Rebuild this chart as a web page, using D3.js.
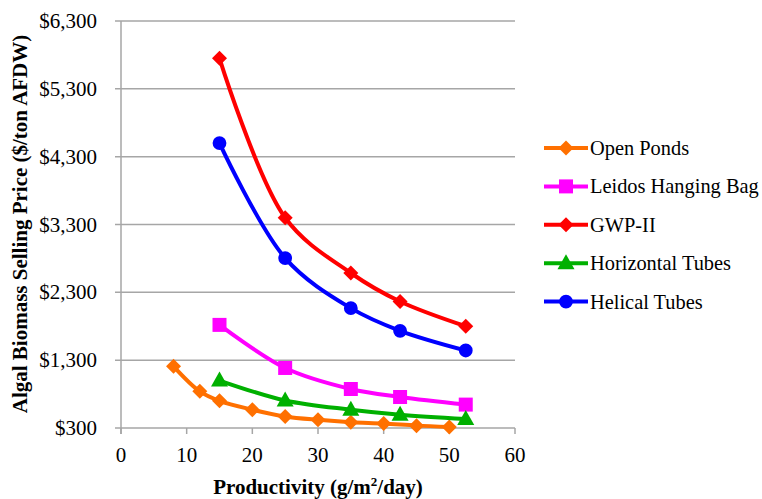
<!DOCTYPE html>
<html>
<head>
<meta charset="utf-8">
<script src="https://cdn.jsdelivr.net/npm/d3@7"></script>
<style>
  body { margin: 0; background: #fff; }
  text { font-family: "Liberation Serif", "Times New Roman", serif; fill: #000; }
</style>
</head>
<body>
<div id="chart"></div>
<script>
// data
var seriesNames = ["Open Ponds", "Leidos Hanging Bag", "GWP-II", "Horizontal Tubes", "Helical Tubes"];
var seriesColors = ["#ff7000", "#ff00ff", "#ff0000", "#00b000", "#0000ff"];
var seriesMarkers = ["diamond", "square", "diamond", "triangle", "circle"];

var pondX = [8, 12, 15, 20, 25, 30, 35, 40, 45, 50];
var pondY = [1210, 840, 700, 570, 470, 420, 385, 365, 335, 315];
var pbrX = [15, 25, 35, 42.5, 52.5];
var leidosY = [1820, 1185, 875, 757, 645];
var gwpY = [5750, 3400, 2585, 2165, 1800];
var horizY = [1000, 706, 570, 496, 432];
var helicalY = [4500, 2805, 2067, 1733, 1443];

var xTicks = [0, 10, 20, 30, 40, 50, 60];
var yTicks = [300, 1300, 2300, 3300, 4300, 5300, 6300];

var W = 762, H = 499;
var margin = {top: 21, right: 247, bottom: 71, left: 121};

var svg = d3.select("#chart").append("svg")
    .attr("width", W)
    .attr("height", H);

var x = d3.scaleLinear().domain([0, 60]).range([margin.left, W - margin.right]);
var y = d3.scaleLinear().domain([300, 6300]).range([H - margin.bottom, margin.top]);

const GRID = "#a6a6a6";
const FS = "21px";

// gridlines
svg.append("g").selectAll("line")
    .data(yTicks)
    .enter().append("line")
    .attr("x1", x(0) - 6)
    .attr("x2", x(60))
    .attr("y1", d => y(d))
    .attr("y2", d => y(d))
    .attr("stroke", GRID)
    .attr("stroke-width", 1.5);

// y axis line
svg.append("line")
    .attr("x1", x(0)).attr("x2", x(0))
    .attr("y1", y(6300)).attr("y2", y(300) + 6)
    .attr("stroke", GRID).attr("stroke-width", 1.5);

// x ticks
svg.append("g").selectAll("line")
    .data(xTicks)
    .enter().append("line")
    .attr("x1", d => x(d)).attr("x2", d => x(d))
    .attr("y1", y(300)).attr("y2", y(300) + 6)
    .attr("stroke", GRID).attr("stroke-width", 1.5);

var fmt = d3.format(",");

svg.append("g").selectAll("text")
    .data(yTicks)
    .enter().append("text")
    .attr("x", x(0) - 24)
    .attr("y", d => y(d) + 7)
    .attr("text-anchor", "end")
    .style("font-size", FS)
    .text(d => "$" + fmt(d));

svg.append("g").selectAll("text")
    .data(xTicks)
    .enter().append("text")
    .attr("x", d => x(d))
    .attr("y", y(300) + 34)
    .attr("text-anchor", "middle")
    .style("font-size", FS)
    .text(d => d);

// axis titles
var xt = svg.append("text")
    .attr("x", (x(0) + x(60)) / 2)
    .attr("y", 494)
    .attr("text-anchor", "middle")
    .style("font-size", FS)
    .style("font-weight", "bold");
xt.append("tspan").text("Productivity (g/m");
xt.append("tspan").attr("dy", -8).style("font-size", "13px").text("2");
xt.append("tspan").attr("dy", 8).text("/day)");

svg.append("g")
    .attr("transform", "translate(27," + 224 + ")")
    .append("text")
    .attr("transform", "rotate(-90)")
    .attr("text-anchor", "middle")
    .style("font-size", FS)
    .style("font-weight", "bold")
    .text("Algal Biomass Selling Price ($/ton AFDW)");

// series
var series = [
    {xs: pondX, ys: pondY},
    {xs: pbrX, ys: leidosY},
    {xs: pbrX, ys: gwpY},
    {xs: pbrX, ys: horizY},
    {xs: pbrX, ys: helicalY}
].map((s, i) => ({
    name: seriesNames[i],
    color: seriesColors[i],
    marker: seriesMarkers[i],
    points: s.xs.map((v, j) => [v, s.ys[j]])
}));

var line = d3.line()
    .x(d => x(d[0]))
    .y(d => y(d[1]))
    .curve(d3.curveCatmullRom.alpha(0.5));

function markerPath(type) {
    if (type == "diamond") return "M0,-7.5L7.5,0L0,7.5L-7.5,0Z";
    if (type == "square") return "M-7,-7H7V7H-7Z";
    if (type == "triangle") return "M0,-9L8.5,6H-8.5Z";
    return d3.symbol(d3.symbolCircle, 150)();
}

series.forEach(s => {
    svg.append("path")
        .datum(s.points)
        .attr("d", line)
        .attr("fill", "none")
        .attr("stroke", s.color)
        .attr("stroke-width", 4);
    svg.append("g").selectAll("path")
        .data(s.points)
        .enter().append("path")
        .attr("transform", d => "translate(" + x(d[0]) + "," + y(d[1]) + ")")
        .attr("d", markerPath(s.marker))
        .attr("fill", s.color);
});

// legend
var legend = svg.append("g").attr("transform", "translate(544,148)");
var row = legend.selectAll("g")
    .data(series)
    .enter().append("g")
    .attr("transform", (d, i) => "translate(0," + (i * 38.4) + ")");
row.append("line")
    .attr("x1", 0).attr("x2", 44)
    .attr("stroke", d => d.color)
    .attr("stroke-width", 4);
row.append("path")
    .attr("transform", "translate(22,0)")
    .attr("d", d => markerPath(d.marker))
    .attr("fill", d => d.color);
row.append("text")
    .attr("x", 46)
    .attr("y", 7)
    .style("font-size", "20.4px")
    .text(d => d.name);
</script>
</body>
</html>
